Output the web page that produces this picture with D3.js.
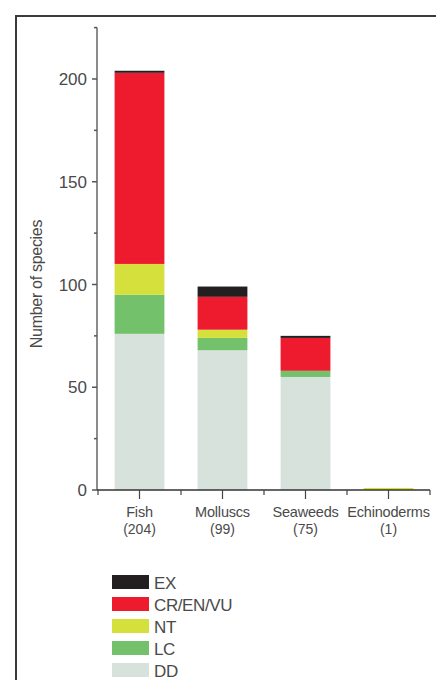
<!DOCTYPE html>
<html>
<head>
<meta charset="utf-8">
<script src="https://cdn.jsdelivr.net/npm/d3@7"></script>
<style>
  html, body { margin: 0; padding: 0; background: #fff; }
  svg { display: block; font-family: "Liberation Sans", Arial, sans-serif; }
</style>
</head>
<body>
<svg id="chart" width="436" height="680"></svg>
<script>
// ---- data ----
const categories = ["Fish", "Molluscs", "Seaweeds", "Echinoderms"];
const totals = ["(204)", "(99)", "(75)", "(1)"];
const seriesNames = ["DD", "LC", "NT", "CR/EN/VU", "EX"];
const DD = [76, 68, 55, 0];
const LC = [19, 6, 3, 0];
const NT = [15, 4, 0, 1];
const CR = [93, 16, 16, 0];
const EX = [1, 5, 1, 0];
const colors = ["#d8e2dc", "#73c26b", "#d6e03c", "#ee1b2f", "#231f20"];
const yMajorTicks = [0, 50, 100, 150, 200];
const yMinorTicks = [25, 75, 125, 175, 225];

const seriesValues = [DD, LC, NT, CR, EX];
const rows = categories.map((c, i) => {
  const r = { cat: c };
  seriesNames.forEach((s, k) => r[s] = seriesValues[k][i]);
  return r;
});

const svg = d3.select("#chart");
const textColor = "#4a4a4a";

// frame
svg.append("rect").attr("x", 16).attr("y", 16).attr("width", 440).attr("height", 700)
  .attr("fill", "none").attr("stroke", "#3a3a3a").attr("stroke-width", 2);

const x0 = 98, x1 = 430, yBottom = 490;
const x = d3.scaleBand().domain(categories).range([x0, x1]).paddingInner(0.4).paddingOuter(0.2);
const y = d3.scaleLinear().domain([0, 225]).range([yBottom, 27.6]);

// bars
const stack = d3.stack().keys(seriesNames)(rows);
svg.append("g").selectAll("g").data(stack).join("g")
  .attr("fill", (d, i) => colors[i])
  .selectAll("rect").data(d => d).join("rect")
  .attr("x", d => x(d.data.cat))
  .attr("width", x.bandwidth())
  .attr("y", d => y(d[1]))
  .attr("height", d => y(d[0]) - y(d[1]));

// y axis
const axisX = 97;
const yg = svg.append("g");
yg.append("line").attr("x1", axisX).attr("x2", axisX).attr("y1", y(225)).attr("y2", yBottom)
  .attr("stroke", "#666").attr("stroke-width", 1.5);
yg.selectAll(".maj").data(yMajorTicks).join("line")
  .attr("x1", axisX - 5).attr("x2", axisX).attr("y1", d => y(d)).attr("y2", d => y(d))
  .attr("stroke", "#555").attr("stroke-width", 1.5);
yg.selectAll(".min").data(yMinorTicks).join("line")
  .attr("x1", axisX - 3).attr("x2", axisX).attr("y1", d => y(d)).attr("y2", d => y(d))
  .attr("stroke", "#555").attr("stroke-width", 1.5);
yg.selectAll("text").data(yMajorTicks).join("text")
  .attr("x", 87).attr("y", d => y(d)).attr("dy", "0.36em")
  .attr("text-anchor", "end").attr("font-size", 17).attr("fill", textColor)
  .text(d => d);

svg.append("text")
  .attr("transform", "translate(41.5,284) rotate(-90)")
  .attr("text-anchor", "middle").attr("font-size", 16).attr("fill", textColor)
  .attr("letter-spacing", "-0.3")
  .text("Number of species");

// x axis
const xg = svg.append("g");
xg.append("line").attr("x1", axisX).attr("x2", x1).attr("y1", yBottom).attr("y2", yBottom)
  .attr("stroke", "#333").attr("stroke-width", 1.5);
const step = x.step();
const bounds = d3.range(categories.length + 1).map(i => x0 + i * step);
xg.selectAll(".b").data(bounds).join("line")
  .attr("x1", d => d).attr("x2", d => d).attr("y1", yBottom).attr("y2", yBottom + 5)
  .attr("stroke", "#444").attr("stroke-width", 1.2);
xg.selectAll(".c").data(categories).join("line")
  .attr("x1", d => x(d) + x.bandwidth() / 2).attr("x2", d => x(d) + x.bandwidth() / 2)
  .attr("y1", yBottom).attr("y2", yBottom + 9)
  .attr("stroke", "#444").attr("stroke-width", 1.2);
xg.selectAll(".l1").data(categories).join("text")
  .attr("x", d => x(d) + x.bandwidth() / 2).attr("y", 517)
  .attr("text-anchor", "middle").attr("font-size", 14.5).attr("fill", textColor)
  .attr("letter-spacing", "-0.2")
  .text(d => d);
xg.selectAll(".l2").data(categories).join("text")
  .attr("x", d => x(d) + x.bandwidth() / 2).attr("y", 534)
  .attr("text-anchor", "middle").attr("font-size", 14).attr("fill", textColor)
  .text((d, i) => totals[i]);

// legend
const legendOrder = [4, 3, 2, 1, 0];
const lg = svg.append("g").selectAll("g").data(legendOrder).join("g")
  .attr("transform", (d, i) => `translate(112,${575 + i * 22})`);
lg.append("rect").attr("width", 37).attr("height", 14).attr("fill", d => colors[d]);
lg.append("text").attr("x", 42).attr("y", 14).attr("font-size", 17).attr("fill", textColor)
  .attr("letter-spacing", "-0.4")
  .text(d => seriesNames[d]);
</script>
</body>
</html>
